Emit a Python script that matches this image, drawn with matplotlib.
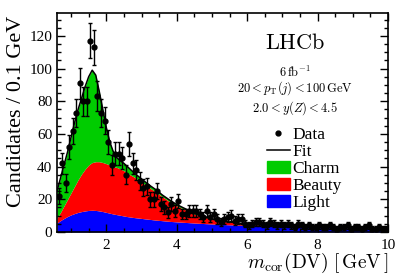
import numpy as np
import matplotlib
matplotlib.use('Agg')
import matplotlib.pyplot as plt
from matplotlib.lines import Line2D
from matplotlib.patches import Patch
from matplotlib.ticker import MultipleLocator

plt.rcParams['font.family'] = ['Liberation Serif', 'DejaVu Serif']
plt.rcParams['mathtext.fontset'] = 'cm'

# data points (bin centres, 0.1 GeV bins)
m_data = np.round(np.arange(0.65, 10.0, 0.1), 2)
counts = [22, 42, 30, 52, 62, 73, 91, 80, 80, 117,
          113, 83, 73, 68, 55, 41, 48, 48, 45, 35,
          54, 42, 38, 31, 27, 28, 20, 20, 25, 17,
          15, 12, 17, 13, 19, 11, 11, 13, 13, 13,
          11, 9, 13, 9, 11, 8, 6, 8, 9, 10,
          7, 8, 8, 5, 4, 5, 6, 6, 5, 4,
          6, 5, 4, 5, 4, 5, 4, 3, 5, 4,
          3, 4, 3, 3, 4, 3, 3, 4, 3, 2,
          3, 3, 4, 2, 3, 3, 2, 3, 4, 2,
          2, 3, 2, 2]

# fit components
m_fit = [0.6, 0.7, 0.8, 0.9, 1.0, 1.1, 1.2, 1.3, 1.4, 1.5, 1.6, 1.7, 1.8, 1.9,
         2.0, 2.1, 2.2, 2.3, 2.4, 2.5, 2.6, 2.8, 3.0, 3.2, 3.4, 3.6, 3.8, 4.0,
         4.5, 5.0, 5.5, 6.0, 7.0, 8.0, 9.0, 10.0]
light = [5.5, 7.0, 8.3, 9.5, 10.5, 11.3, 12.0, 12.5, 12.9, 13.2, 13.3, 13.2, 12.9, 12.5,
         12.0, 11.5, 11.0, 10.6, 10.2, 9.8, 9.4, 8.8, 8.3, 7.8, 7.3, 6.9, 6.5, 6.2,
         5.5, 4.9, 4.4, 4.0, 3.4, 2.9, 2.5, 2.2]
beauty = [3.0, 5.0, 7.7, 10.5, 13.5, 16.7, 20.0, 23.0, 25.6, 27.8, 29.2, 29.8, 30.1, 30.0,
          29.8, 29.5, 29.0, 28.9, 28.3, 27.7, 26.6, 24.7, 22.2, 19.7, 17.2, 14.6, 12.0, 9.8,
          5.5, 2.9, 1.6, 0.8, 0.2, 0.1, 0.1, 0.0]
charm = [16.5, 21.0, 25.0, 29.0, 34.0, 39.0, 43.0, 46.5, 50.5, 54.0, 56.5, 53.0, 43.0, 32.5,
         22.2, 14.0, 9.0, 6.0, 5.0, 4.5, 4.0, 2.5, 2.0, 1.5, 1.5, 1.0, 1.0, 0.8,
         0.5, 0.2, 0.1, 0.1, 0.0, 0.0, 0.0, 0.0]

lvl1 = np.array(light)
lvl2 = lvl1 + np.array(beauty)
lvl3 = lvl2 + np.array(charm)

fig = plt.figure(figsize=(4.08, 2.76), dpi=100)
ax = fig.add_axes([0.1397, 0.1594, 0.8113, 0.7936])

ax.fill_between(m_fit, 0, lvl1, color='#0000ff', lw=0)
ax.fill_between(m_fit, lvl1, lvl2, color='#ff0000', lw=0)
ax.fill_between(m_fit, lvl2, lvl3, color='#00cc00', lw=0)
ax.plot(m_fit, lvl3, color='black', lw=1.1)

ax.errorbar(m_data, counts, yerr=np.sqrt(counts), fmt='o', color='black',
            ms=3.5, elinewidth=1.0, capsize=1.5, capthick=1.0)

ax.set_xlim(0.6, 10)
ax.set_ylim(0, 134)
ax.xaxis.set_major_locator(MultipleLocator(2))
ax.xaxis.set_minor_locator(MultipleLocator(0.5))
ax.yaxis.set_major_locator(MultipleLocator(20))
ax.yaxis.set_minor_locator(MultipleLocator(5))
ax.tick_params(which='both', direction='in', top=True, right=True, labelsize=11, width=1.0)
ax.tick_params(which='major', length=6)
ax.tick_params(which='minor', length=3)
ax.tick_params(axis='x', pad=5)
for s in ax.spines.values():
    s.set_linewidth(1.2)

ax.set_ylabel('Candidates / 0.1 GeV', fontsize=16, loc='top')
ax.yaxis.set_label_coords(-0.095, 0.99)
ax.set_xlabel(r'$m_{\rm cor}(\rm DV)\ [\,\rm GeV\,]$', fontsize=14, loc='right')
ax.xaxis.set_label_coords(1.0, -0.085)

ax.text(0.72, 0.86, r'$\rm LHCb$', transform=ax.transAxes, ha='center', va='center', fontsize=16)
ax.text(0.72, 0.73, r'$6\,\rm fb^{-1}$', transform=ax.transAxes, ha='center', va='center', fontsize=9)
ax.text(0.72, 0.655, r'$20 < p_{\rm T}(j) < 100\,\rm GeV$', transform=ax.transAxes, ha='center', va='center', fontsize=9)
ax.text(0.72, 0.565, r'$2.0 < y(Z) < 4.5$', transform=ax.transAxes, ha='center', va='center', fontsize=9)

handles = [Line2D([], [], marker='o', ls='none', color='black', ms=3.5),
           Line2D([], [], color='black', lw=1.1),
           Patch(color='#00cc00'), Patch(color='#ff0000'), Patch(color='#0000ff')]
ax.legend(handles, ['Data', 'Fit', 'Charm', 'Beauty', 'Light'], loc='upper left',
          bbox_to_anchor=(0.598, 0.535), frameon=False, fontsize=12.5,
          handlelength=1.3, handletextpad=0.15, labelspacing=0.05, borderpad=0.2)

fig.savefig('out.png', dpi=100)
